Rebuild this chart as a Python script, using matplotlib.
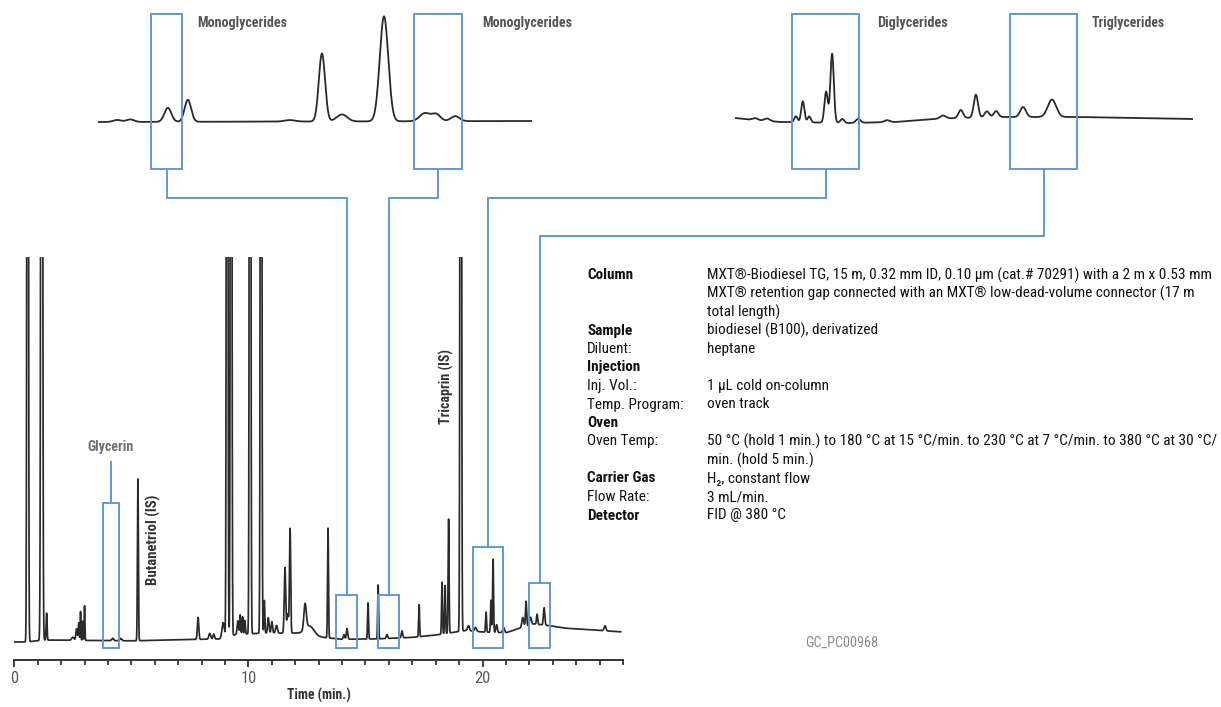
import numpy as np
import matplotlib.pyplot as plt
from matplotlib.patches import Rectangle

W, H, DPI = 1221, 707, 100
TRACE = '#2a2a2a'
BLUE = '#5f9bd3'
plt.rcParams['font.family'] = ['Roboto Condensed', 'DejaVu Sans Condensed', 'Roboto', 'DejaVu Sans']

# --- main chromatogram: retention time (min), height (% of full scale), sigma (min)
peak_times = [0.57, 1.17, 1.38, 2.50, 2.66, 2.75, 2.83, 2.92, 3.00, 4.20, 4.55,
              5.28, 7.85, 8.35, 8.52, 8.92, 9.09, 9.26, 9.55, 9.65, 9.75, 9.85,
              10.07, 10.54, 10.68, 10.85, 11.00, 11.20, 11.56, 11.68, 11.78,
              12.42, 12.60, 13.40, 14.08, 14.21, 15.11, 15.54, 15.92, 16.56,
              17.29, 18.27, 18.40, 18.55, 19.07, 19.40, 19.70, 20.15, 20.36,
              20.45, 20.60, 20.90, 21.72, 21.86, 22.05, 22.33, 22.63, 25.23]
peak_heights = [400, 400, 7.0, 0.8, 3.0, 4.5, 7.5, 5.0, 9.0, 0.6, 0.6,
                42.0, 5.7, 1.5, 1.3, 4.0, 400, 400, 3.5, 5.0, 4.5, 3.5,
                400, 400, 8.5, 4.0, 3.0, 2.0, 17.0, 5.0, 27.0,
                6.5, 2.5, 28.5, 1.2, 2.8, 9.4, 14.0, 1.0, 1.8,
                8.3, 13.5, 12.5, 29.6, 400, 1.3, 1.0, 5.2, 8.3,
                19.0, 2.0, 1.3, 2.5, 6.5, 2.0, 2.6, 4.5, 1.3]
peak_sigmas = [0.025, 0.03, 0.02, 0.05, 0.03, 0.02, 0.015, 0.015, 0.015, 0.04, 0.04,
               0.02, 0.03, 0.04, 0.03, 0.05, 0.025, 0.025, 0.03, 0.02, 0.02, 0.02,
               0.025, 0.025, 0.02, 0.03, 0.03, 0.04, 0.03, 0.04, 0.025,
               0.05, 0.2, 0.02, 0.03, 0.03, 0.02, 0.02, 0.03, 0.03,
               0.02, 0.02, 0.02, 0.02, 0.025, 0.04, 0.04, 0.02, 0.02,
               0.02, 0.03, 0.04, 0.04, 0.025, 0.04, 0.025, 0.03, 0.04]
base_times = [0, 0.5, 1.3, 5.0, 8.8, 9.5, 10.7, 12.0, 13.0, 14.0, 15.5, 17.0,
              18.0, 19.3, 20.0, 21.0, 21.6, 22.2, 22.9, 23.5, 26.0]
base_levels = [0, 0, 0.5, 0.3, 0.8, 2.0, 2.3, 2.3, 1.3, 0.7, 0.8, 1.2,
               1.8, 3.0, 2.6, 2.4, 3.6, 4.7, 4.2, 3.6, 2.6]

# highlighted windows on the main trace: start, end (min), top (%)
win_start = [3.79, 13.74, 15.54, 19.59, 21.99]
win_end = [4.47, 14.64, 16.43, 20.87, 22.88]
win_top = [36.1, 12.2, 12.2, 24.7, 15.3]

# --- expanded insets (relative position 0-100, amplitude, sigma)
mono_pos = [4.4, 7.4, 16.1, 20.7, 44.2, 51.6, 56.2, 65.9, 75.3, 77.9, 82.3]
mono_amp = [2.0, 2.5, 14, 22, 1.5, 68, 7, 105, 8, 7, 5]
mono_sig = [0.9, 0.9, 0.8, 0.75, 1.2, 0.72, 1.2, 0.98, 1.2, 1.0, 1.0]

digl_pos = [4.4, 7.0, 13.3, 14.8, 16.2, 19.9, 21.2, 23.4, 26.9, 33.2, 45.4,
            49.3, 52.6, 55.0, 57.0, 62.9, 69.2]
digl_amp = [2.0, 2.5, 6, 21, 6, 31, 69, 4, 4, 2, 3, 8, 23, 6, 6, 10, 17.4]
digl_sig = [0.6, 0.6, 0.35, 0.35, 0.35, 0.37, 0.37, 0.4, 0.5, 0.6, 0.6,
            0.5, 0.46, 0.5, 0.5, 0.62, 0.92]
digl_base_x = [0, 4, 10, 25, 35, 45, 58, 75, 100]
digl_base_y = [4, 2, 0, -1, 0, 3.5, 5, 5, 3]

# inset boxes (px) and their labels
inset_box_x0 = [151, 414, 792, 1010]
inset_box_x1 = [182, 462, 859, 1077]
inset_labels = ['Monoglycerides', 'Monoglycerides', 'Diglycerides', 'Triglycerides']
inset_label_x = [197, 482, 877, 1092]
inset_label_w = [90, 90, 71, 73]
link_y = [198, 198, 198, 236]
link_win = [1, 2, 3, 4]

method_rows = [
    ('Column', 'MXT®-Biodiesel TG, 15 m, 0.32 mm ID, 0.10 µm (cat.# 70291) with a 2 m x 0.53 mm', True),
    ('', 'MXT® retention gap connected with an MXT® low-dead-volume connector (17 m', False),
    ('', 'total length)', False),
    ('Sample', 'biodiesel (B100), derivatized', True),
    ('Diluent:', 'heptane', False),
    ('Injection', '', True),
    ('Inj. Vol.:', '1 µL cold on-column', False),
    ('Temp. Program:', 'oven track', False),
    ('Oven', '', True),
    ('Oven Temp:', '50 °C (hold 1 min.) to 180 °C at 15 °C/min. to 230 °C at 7 °C/min. to 380 °C at 30 °C/', False),
    ('', 'min. (hold 5 min.)', False),
    ('Carrier Gas', 'H₂, constant flow', True),
    ('Flow Rate:', '3 mL/min.', False),
    ('Detector', 'FID @ 380 °C', True),
]


def gauss_sum(x, pos, amp, sig):
    y = np.zeros_like(x)
    for p, a, s in zip(pos, amp, sig):
        y += a * np.exp(-0.5 * ((x - p) / s) ** 2)
    return y


fig = plt.figure(figsize=(W / DPI, H / DPI), dpi=DPI)
renderer = fig.canvas.get_renderer()


def fit(txt, target):
    # scale the font so the text spans the same length as in the reference
    bb = txt.get_window_extent(renderer)
    txt.set_fontsize(txt.get_fontsize() * target / max(bb.width, bb.height))
    return txt.get_fontsize()


# main chromatogram
ax = fig.add_axes([14.3 / W, (H - 660) / H, (623 - 14.3) / W, (660 - 257) / H])
t = np.linspace(0, 25.9, 20000)
signal = np.interp(t, base_times, base_levels) + gauss_sum(t, peak_times, peak_heights, peak_sigmas)
ax.plot(t, signal, color=TRACE, lw=1.25)
ax.set_xlim(0, 26)
ax.set_ylim(-4.68, 100)
for s in ['top', 'left', 'right']:
    ax.spines[s].set_visible(False)
ax.spines['bottom'].set_color('#333333')
ax.spines['bottom'].set_linewidth(1.4)
ax.set_yticks([])
ax.set_xticks([0, 10, 20])
ax.set_xticks(np.arange(0, 27, 1), minor=True)
ax.tick_params(axis='x', which='major', length=5, width=1.3, color='#333333',
               labelsize=12, labelcolor='#5a5a5a', pad=3)
ax.tick_params(axis='x', which='minor', length=3.5, width=1.3, color='#333333')
xl = ax.set_xlabel('Time (min.)', fontsize=10.5, color='#333333', fontweight='bold', labelpad=1)
fit(xl, 64)
ax.patch.set_alpha(0)

for x0, x1, top in zip(win_start, win_end, win_top):
    ax.add_patch(Rectangle((x0, -1.56), x1 - x0, top + 1.56, fill=False,
                           ec=BLUE, lw=1.4, clip_on=False, zorder=3))

# insets
ins1 = fig.add_axes([98 / W, (H - 170) / H, (532 - 98) / W, 160 / H])
x1 = np.linspace(0, 100, 4000)
ins1.plot(x1, np.interp(x1, [0, 100], [0, 1]) + gauss_sum(x1, mono_pos, mono_amp, mono_sig),
          color=TRACE, lw=1.3)
ins2 = fig.add_axes([735 / W, (H - 170) / H, (1193 - 735) / W, 160 / H])
ins2.plot(x1, np.interp(x1, digl_base_x, digl_base_y) + gauss_sum(x1, digl_pos, digl_amp, digl_sig),
          color=TRACE, lw=1.3)
for a in (ins1, ins2):
    a.set_xlim(0, 100)
    a.set_ylim(-48, 112)
    a.axis('off')

# overlay in pixel coordinates for boxes, links and labels
ov = fig.add_axes([0, 0, 1, 1], zorder=5)
ov.set_xlim(0, W)
ov.set_ylim(H, 0)
ov.axis('off')


def main_to_px(tx, ty):
    return ov.transData.inverted().transform(ax.transData.transform((tx, ty)))


for bx0, bx1, lab, lx, lw_, ly, wi in zip(inset_box_x0, inset_box_x1, inset_labels,
                                          inset_label_x, inset_label_w, link_y, link_win):
    ov.add_patch(Rectangle((bx0, 14), bx1 - bx0, 155, fill=False, ec=BLUE, lw=1.4))
    lt = ov.text(lx, 23, lab, fontsize=10, fontweight='bold', color='#555555', va='center')
    fit(lt, lw_)
    cx = (bx0 + bx1) / 2
    mx, my = main_to_px((win_start[wi] + win_end[wi]) / 2, win_top[wi])
    ov.plot([cx, cx, mx, mx], [169, ly, ly, my], color=BLUE, lw=1.4, solid_joinstyle='miter')

# glycerin label and link
gx, gy = main_to_px((win_start[0] + win_end[0]) / 2, win_top[0])
ov.plot([gx, gx], [462, gy], color=BLUE, lw=1.4)
gt = ov.text(gx, 447, 'Glycerin', fontsize=10, fontweight='bold', color='#707070',
             ha='center', va='center')
fit(gt, 46)

# internal standard labels
bx, _ = main_to_px(peak_times[11], 0)
bt = ov.text(bx + 16, 540, 'Butanetriol (IS)', rotation=90, fontsize=10, fontweight='bold',
             color='#333333', ha='center', va='center')
fit(bt, 90)
tx, _ = main_to_px(peak_times[44], 0)
tt = ov.text(tx - 14, 387, 'Tricaprin (IS)', rotation=90, fontsize=10, fontweight='bold',
             color='#333333', ha='center', va='center')
fit(tt, 75)

# method conditions
probe = ov.text(707, 275, method_rows[0][1], fontsize=10.5, color='#111111', va='center')
size = fit(probe, 506)
probe.remove()
for i, (label, value, bold) in enumerate(method_rows):
    y = 275 + i * 18.5
    if label:
        ov.text(587, y, label, fontsize=size, fontweight='bold' if bold else 'normal',
                color='#111111', va='center')
    if value:
        ov.text(707, y, value, fontsize=size, color='#111111', va='center')

gc = ov.text(842, 643, 'GC_PC00968', fontsize=9.5, color='#8a8a8a', ha='center', va='center')
fit(gc, 73)

fig.savefig('out.png', dpi=DPI)
